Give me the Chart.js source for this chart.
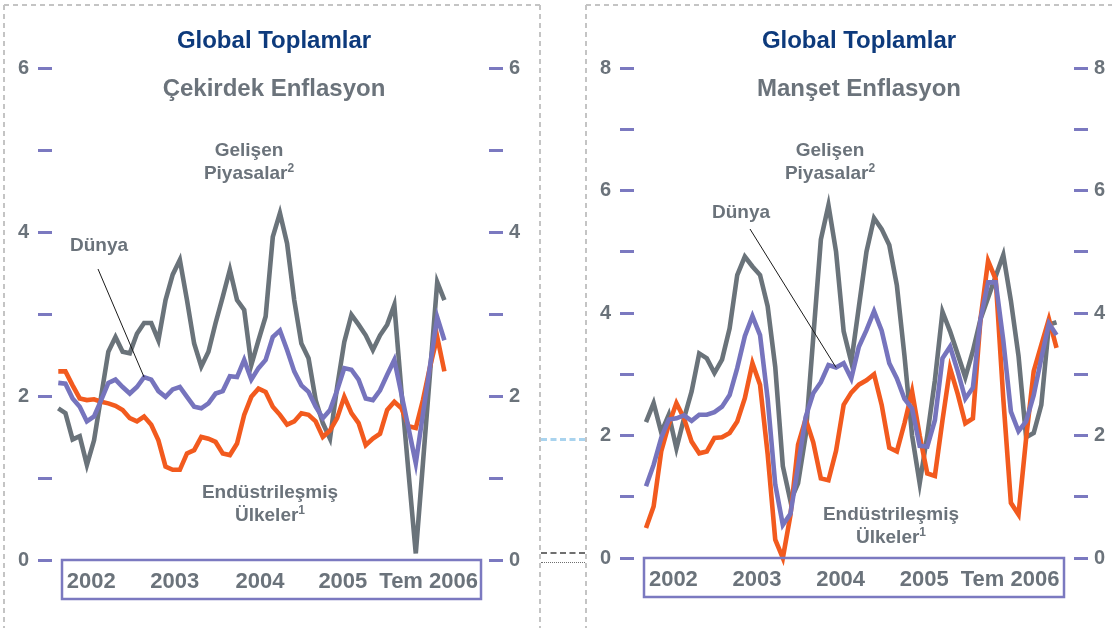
<!DOCTYPE html>
<html lang="tr">
<head>
<meta charset="utf-8">
<title>Global Toplamlar</title>
<script src="https://cdn.jsdelivr.net/npm/chart.js@4.4.1/dist/chart.umd.min.js"></script>
<style>
  body { margin: 0; width: 1112px; height: 628px; overflow: hidden; background: #fff; position: relative;
         font-family: 'Liberation Sans', Arial, sans-serif; font-weight: bold; color: #6b737b; }
  .panel { position: absolute; top: 0; height: 628px; }
  #core-wrap { left: 0; width: 560px; }
  #head-wrap { left: 560px; width: 552px; }
  .txt { position: absolute; transform: translate(-50%, -50%); white-space: nowrap; text-align: center;
         line-height: 23px; font-size: 19px; z-index: 2; }
  .title { color: #0d3a7c; font-size: 24px; line-height: 1; }
  .sub { font-size: 24px; line-height: 1; }
  .sup { font-size: 12px; position: relative; top: -7px; }
  .link { position: absolute; left: 541px; width: 44px; height: 0; z-index: 2; }
</style>
</head>
<body>

<div class="panel" id="core-wrap"><canvas id="core-chart"></canvas></div>
<div class="panel" id="head-wrap"><canvas id="head-chart"></canvas></div>

<!-- left panel texts -->
<div class="txt title" style="left:274px; top:40px">Global Toplamlar</div>
<div class="txt sub" style="left:274px; top:88px">Çekirdek Enflasyon</div>
<div class="txt" style="left:249px; top:162px">Gelişen<br>Piyasalar<span class="sup">2</span></div>
<div class="txt" style="left:99px; top:244px">Dünya</div>
<div class="txt" style="left:270px; top:504px">Endüstrileşmiş<br>Ülkeler<span class="sup">1</span></div>

<!-- right panel texts -->
<div class="txt title" style="left:859px; top:40px">Global Toplamlar</div>
<div class="txt sub" style="left:859px; top:88px">Manşet Enflasyon</div>
<div class="txt" style="left:830px; top:162px">Gelişen<br>Piyasalar<span class="sup">2</span></div>
<div class="txt" style="left:741px; top:211px">Dünya</div>
<div class="txt" style="left:891px; top:526px">Endüstrileşmiş<br>Ülkeler<span class="sup">1</span></div>

<!-- bits of connector between the two panels -->
<div class="link" style="top:438px; border-top:3px dashed #a9d3ee"></div>
<div class="link" style="top:552px; border-top:2px dashed #6f6f6f"></div>
<div class="link" style="top:562px; border-top:1px dotted #6f6f6f"></div>

<script>
// monthly values, Jan 2002 .. Jul 2006 (55 months)
const coreEmerging = [1.85, 1.79, 1.47, 1.51, 1.16, 1.46, 2.0, 2.54, 2.72, 2.54, 2.52,
  2.76, 2.89, 2.89, 2.68, 3.17, 3.48, 3.66, 3.17, 2.64, 2.36,
  2.54, 2.89, 3.21, 3.54, 3.17, 3.05, 2.38, 2.68, 2.97, 3.94,
  4.23, 3.86, 3.17, 2.64, 2.46, 1.95, 1.67, 1.48, 2.11, 2.66,
  2.99, 2.87, 2.74, 2.56, 2.74, 2.87, 3.11, 2.05, 1.05, 0.08,
  1.18, 2.29, 3.39, 3.17];
const coreWorld = [2.16, 2.15, 1.97, 1.87, 1.69, 1.75, 1.95, 2.16, 2.20, 2.11, 2.03,
  2.11, 2.23, 2.20, 2.06, 1.99, 2.08, 2.11, 1.99, 1.87, 1.85,
  1.91, 2.03, 2.06, 2.24, 2.23, 2.44, 2.20, 2.34, 2.44, 2.72,
  2.80, 2.56, 2.30, 2.13, 2.05, 1.87, 1.73, 1.83, 2.07, 2.34,
  2.32, 2.20, 1.97, 1.95, 2.07, 2.26, 2.44, 2.02, 1.60, 1.18,
  1.78, 2.37, 2.96, 2.68];
const coreIndustrial = [2.30, 2.30, 2.13, 1.97, 1.95, 1.96, 1.93, 1.91, 1.88, 1.83, 1.73,
  1.69, 1.75, 1.65, 1.46, 1.14, 1.10, 1.10, 1.30, 1.34, 1.50,
  1.48, 1.44, 1.30, 1.28, 1.42, 1.77, 1.99, 2.09, 2.05, 1.87,
  1.77, 1.65, 1.69, 1.79, 1.77, 1.69, 1.50, 1.58, 1.73, 1.99,
  1.79, 1.67, 1.40, 1.48, 1.54, 1.83, 1.93, 1.85, 1.63, 1.61,
  1.95, 2.36, 2.72, 2.30];

const headEmerging = [2.22, 2.53, 2.05, 2.34, 1.79, 2.28, 2.72, 3.34, 3.26, 3.02, 3.24,
  3.75, 4.62, 4.92, 4.76, 4.62, 4.11, 3.12, 1.5, 0.93, 1.22,
  2.0, 3.6, 5.2, 5.76, 5.0, 3.7, 3.2, 4.1, 5.0, 5.55,
  5.37, 5.11, 4.45, 3.3, 2.0, 1.22, 2.0, 2.9, 4.02, 3.7,
  3.33, 2.95, 3.38, 3.9, 4.25, 4.6, 4.95, 4.2, 3.3, 1.97,
  2.04, 2.5, 3.81, 3.85];
const headWorld = [1.17, 1.52, 1.96, 2.26, 2.28, 2.33, 2.24, 2.34, 2.34, 2.38, 2.47,
  2.66, 3.10, 3.62, 3.95, 3.64, 2.6, 1.2, 0.54, 0.72, 1.5,
  2.3, 2.69, 2.87, 3.15, 3.11, 3.18, 2.93, 3.45, 3.72, 4.03,
  3.71, 3.18, 2.93, 2.6, 2.44, 1.83, 1.82, 2.25, 3.26, 3.45,
  3.05, 2.6, 2.78, 3.9, 4.5, 4.5, 3.55, 2.39, 2.07, 2.23,
  2.66, 3.26, 3.83, 3.64];
const headIndustrial = [0.49, 0.84, 1.74, 2.18, 2.53, 2.28, 1.90, 1.71, 1.74, 1.96, 1.97,
  2.04, 2.23, 2.61, 3.18, 2.83, 1.7, 0.3, 0.0, 0.7, 1.85,
  2.27, 1.89, 1.30, 1.27, 1.75, 2.5, 2.7, 2.83, 2.9, 3.0,
  2.5, 1.8, 1.74, 2.2, 2.72, 2.0, 1.38, 1.34, 2.25, 3.1,
  2.68, 2.2, 2.28, 3.9, 4.85, 4.55, 2.6, 0.9, 0.71, 1.95,
  3.05, 3.48, 3.9, 3.43];

const xTickLabels = ['2002', '2003', '2004', '2005', 'Tem 2006'];
const coreYLabels = ['0', '', '2', '', '4', '', '6'];
const headYLabels = ['0', '', '2', '', '4', '', '6', '', '8'];

const GRAY = '#6a737a', PURPLE = '#7674bd', ORANGE = '#f25a1e';
const TEXT = '#6b737b', DASH = '#7b79c0';
const FONT = "'Liberation Sans', Arial, sans-serif";

// frame, label box and "Dünya" pointer line
const panelDecor = {
  id: 'panelDecor',
  beforeDraw(chart, args, opts) {
    const ctx = chart.ctx;
    ctx.save();
    ctx.strokeStyle = '#c4c4c4';
    ctx.lineWidth = 2;
    ctx.setLineDash([5, 4]);
    ctx.beginPath();
    opts.frame.forEach(s => { ctx.moveTo(s[0], s[1]); ctx.lineTo(s[2], s[3]); });
    ctx.stroke();
    ctx.restore();
  },
  afterDatasetsDraw(chart, args, opts) {
    const ctx = chart.ctx;
    const a = chart.chartArea;
    ctx.save();
    ctx.strokeStyle = DASH;
    ctx.lineWidth = 2.5;
    ctx.strokeRect(a.left + opts.box[0], a.bottom, a.right - a.left - opts.box[0] - opts.box[1], 39);
    const pt = chart.getDatasetMeta(0).data[opts.pointer.index];
    ctx.strokeStyle = '#1a1a1a';
    ctx.lineWidth = 1;
    ctx.beginPath();
    ctx.moveTo(opts.pointer.from[0], opts.pointer.from[1]);
    ctx.lineTo(pt.x, pt.y);
    ctx.stroke();
    ctx.restore();
  }
};

function toPoints(values) {
  return values.map((v, i) => ({ x: i, y: v }));
}

function yAxis(position, max, labels, width) {
  return {
    position: position,
    min: 0,
    max: max,
    afterFit: s => { s.width = width; },
    border: { display: false },
    grid: { drawOnChartArea: false, drawTicks: true, tickLength: 14, tickWidth: 3, tickColor: DASH },
    ticks: {
      stepSize: 1,
      autoSkip: false,
      padding: position === 'left' ? 9 : 6,
      color: TEXT,
      font: { family: FONT, size: 20, weight: 'bold' },
      callback: (v, i) => labels[i]
    }
  };
}

function makeChart(id, series, cfg) {
  return new Chart(document.getElementById(id), {
    type: 'line',
    data: {
      datasets: [
        { data: toPoints(series[0]), borderColor: PURPLE },
        { data: toPoints(series[1]), borderColor: ORANGE },
        { data: toPoints(series[2]), borderColor: GRAY }
      ].map(d => Object.assign(d, { borderWidth: 4.6, pointRadius: 0, tension: 0, clip: 8, fill: false }))
    },
    options: {
      responsive: true,
      maintainAspectRatio: false,
      animation: false,
      devicePixelRatio: 1,
      layout: { padding: { top: 68, left: 0, right: 0, bottom: 0 } },
      plugins: {
        legend: { display: false },
        tooltip: { enabled: false },
        panelDecor: cfg.decor
      },
      scales: {
        x: {
          type: 'linear',
          min: cfg.xMin,
          max: cfg.xMax,
          afterFit: s => { s.height = cfg.xHeight; },
          afterBuildTicks: s => { s.ticks = cfg.labelAt.map(v => ({ value: v })); },
          border: { display: false },
          grid: { display: false, drawTicks: false },
          ticks: {
            autoSkip: false,
            maxRotation: 0,
            padding: 9,
            color: TEXT,
            font: { family: FONT, size: 22, weight: 'bold' },
            callback: (v, i) => xTickLabels[i]
          }
        },
        y: yAxis('left', cfg.yMax, cfg.yLabels, cfg.leftWidth),
        y2: yAxis('right', cfg.yMax, cfg.yLabels, cfg.rightWidth)
      }
    },
    plugins: [panelDecor]
  });
}

makeChart('core-chart', [coreWorld, coreIndustrial, coreEmerging], {
  xMin: -0.88, xMax: 60.24, xHeight: 68,
  labelAt: [4.6, 16.3, 28.2, 39.8, 51.8],
  yMax: 6, yLabels: coreYLabels, leftWidth: 52, rightWidth: 71,
  decor: {
    frame: [[4, 5, 540, 5], [4, 5, 4, 640], [540, 5, 540, 640]],
    box: [10, 8],
    pointer: { index: 12, from: [98, 269] }
  }
});

makeChart('head-chart', [headWorld, headIndustrial, headEmerging], {
  xMin: -1.58, xMax: 56.3, xHeight: 70,
  labelAt: [3.6, 14.6, 25.6, 36.6, 47.9],
  yMax: 8, yLabels: headYLabels, leftWidth: 74, rightWidth: 38,
  decor: {
    frame: [[26, 5, 560, 5], [26, 5, 26, 640]],
    box: [10, 10],
    pointer: { index: 25, from: [190, 229] }
  }
});
</script>
</body>
</html>
